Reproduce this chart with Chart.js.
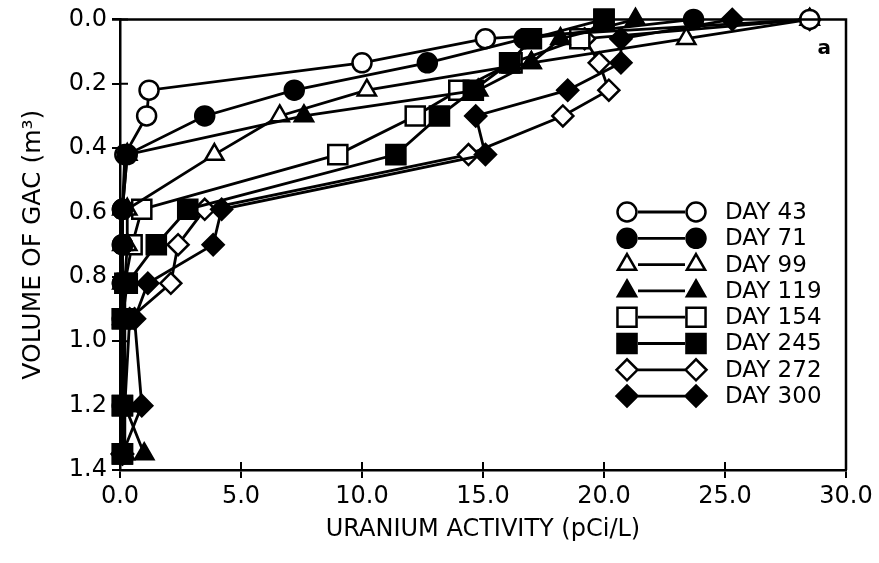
<!DOCTYPE html>
<html><head><meta charset="utf-8">
<script src="https://cdn.jsdelivr.net/npm/chart.js@4.4.1/dist/chart.umd.min.js"></script>
<style>html,body{margin:0;padding:0;background:#fff;}#wrap{width:879px;height:563px;}</style>
</head><body><div id="wrap"><canvas id="c" width="879" height="563"></canvas></div>
<script>
// ---- data ----
const depths = [0, 0.06, 0.135, 0.22, 0.30, 0.42, 0.59, 0.70, 0.82, 0.93, 1.20, 1.35];
const day43  = [28.5, 15.1, 10.0, 1.2, 1.1, 0.2, 0.1, 0.1, 0.1, 0.1, 0.1, 0.1];
const day71  = [23.7, 16.7, 12.7, 7.2, 3.5, 0.3, 0.1, 0.1, 0.1, 0.1, 0.1, 0.1];
const day99  = [28.5, 23.4, 17.0, 10.2, 6.6, 3.9, 0.3, 0.3, 0.2, 0.2, 0.2, 0.2];
const day119 = [21.3, 18.2, 17.0, 14.8, 7.6, 0.3, 0.1, 0.1, 0.1, 0.1, 0.2, 1.0];
const day154 = [20.0, 19.0, 16.2, 14.0, 12.2, 9.0, 0.9, 0.5, 0.2, 0.1, 0.1, 0.1];
const day245 = [20.0, 17.0, 16.1, 14.6, 13.2, 11.4, 2.8, 1.5, 0.3, 0.1, 0.1, 0.1];
const day272 = [28.5, 19.2, 19.8, 20.2, 18.3, 14.4, 3.5, 2.4, 2.1, 0.4, 0.2, 0.1];
const day300 = [25.3, 20.7, 20.7, 18.5, 14.7, 15.1, 4.2, 3.85, 1.15, 0.6, 0.9, 0.1];
const seriesLabels = ['DAY 43','DAY 71','DAY 99','DAY 119','DAY 154','DAY 245','DAY 272','DAY 300'];
const seriesValues = [day43, day71, day99, day119, day154, day245, day272, day300];
const xTickValues = [0, 5, 10, 15, 20, 25, 30];
const yTickValues = [0, 0.2, 0.4, 0.6, 0.8, 1.0, 1.2, 1.4];

// ---- styles ----
const shapes = ['circle','circle','triangle','triangle','rect','rect','rectRot','rectRot'];
const filled = [false,true,false,true,false,true,false,true];
const radii = {circle: 9.5, triangle: 10.5, rect: 13.5, rectRot: 10.5};
const FONT = "'DejaVu Sans', sans-serif";

const datasets = seriesValues.map((vals, i) => ({
  label: seriesLabels[i],
  data: vals.map((v, k) => ({x: v, y: depths[k]})),
  showLine: true,
  borderColor: '#000',
  borderWidth: 2.8,
  tension: 0,
  pointStyle: shapes[i],
  pointRadius: radii[shapes[i]],
  pointHoverRadius: radii[shapes[i]],
  pointBackgroundColor: filled[i] ? '#000' : '#fff',
  pointBorderColor: '#000',
  pointBorderWidth: 2.5,
  clip: false,
  order: filled[i] ? 0 : 1
}));

function drawMarker(ctx, shape, x, y, r, fill) {
  ctx.beginPath();
  if (shape === 'circle') {
    ctx.arc(x, y, r, 0, Math.PI * 2);
  } else if (shape === 'triangle') {
    let rad = 0;
    ctx.moveTo(x + Math.sin(rad) * r, y - Math.cos(rad) * r);
    rad += 2 * Math.PI / 3;
    ctx.lineTo(x + Math.sin(rad) * r, y - Math.cos(rad) * r);
    rad += 2 * Math.PI / 3;
    ctx.lineTo(x + Math.sin(rad) * r, y - Math.cos(rad) * r);
    ctx.closePath();
  } else if (shape === 'rect') {
    const s = Math.SQRT1_2 * r;
    ctx.rect(x - s, y - s, 2 * s, 2 * s);
  } else {
    ctx.moveTo(x - r, y); ctx.lineTo(x, y - r); ctx.lineTo(x + r, y); ctx.lineTo(x, y + r); ctx.closePath();
  }
  ctx.fillStyle = fill ? '#000' : '#fff';
  ctx.fill();
  ctx.lineWidth = 2.5;
  ctx.strokeStyle = '#000';
  ctx.stroke();
}

const framePlugin = {
  id: 'frame',
  afterDraw(chart) {
    const ctx = chart.ctx;
    const {left, right, top, bottom} = chart.chartArea;
    const xs = chart.scales.x, ys = chart.scales.y;
    ctx.save();
    ctx.strokeStyle = '#000';
    ctx.lineWidth = 2.5;
    ctx.beginPath();
    ctx.moveTo(left - 8, top); ctx.lineTo(right, top); ctx.lineTo(right, bottom);
    ctx.stroke();
    ctx.lineWidth = 2;
    ctx.beginPath();
    xTickValues.forEach(v => { const px = xs.getPixelForValue(v); ctx.moveTo(px, bottom); ctx.lineTo(px, bottom - 8); });
    yTickValues.forEach(v => { const py = ys.getPixelForValue(v); ctx.moveTo(left, py); ctx.lineTo(left + 8, py); });
    ctx.stroke();
    // legend
    const rowY0 = 212, rowH = 26.3;
    seriesLabels.forEach((lab, i) => {
      const y = rowY0 + i * rowH;
      const r = radii[shapes[i]];
      ctx.lineWidth = 2.8;
      ctx.beginPath(); ctx.moveTo(638, y); ctx.lineTo(685, y); ctx.stroke();
      drawMarker(ctx, shapes[i], 627, y, r, filled[i]);
      drawMarker(ctx, shapes[i], 696, y, r, filled[i]);
      ctx.fillStyle = '#000';
      ctx.font = "23px " + FONT;
      ctx.textBaseline = 'middle';
      ctx.textAlign = 'left';
      ctx.fillText(lab, 725, y + 1);
    });
    // panel letter
    ctx.font = "bold 20px " + FONT;
    ctx.textAlign = 'center';
    ctx.textBaseline = 'middle';
    ctx.fillText('a', xs.getPixelForValue(29.1), ys.getPixelForValue(0.09));
    ctx.restore();
  }
};

new Chart(document.getElementById('c'), {
  type: 'scatter',
  data: {datasets},
  options: {
    responsive: false,
    animation: false,
    devicePixelRatio: 1,
    layout: {padding: {top: 19, right: 33, left: 0, bottom: 0}},
    plugins: {legend: {display: false}, tooltip: {enabled: false}},
    scales: {
      x: {
        type: 'linear', min: 0, max: 30,
        afterFit: s => { s.height = 93; },
        afterBuildTicks: s => { s.ticks = xTickValues.map(v => ({value: v})); },
        ticks: {color: '#000', font: {family: FONT, size: 24}, padding: 4, maxRotation: 0, callback: v => Number(v).toFixed(1)},
        grid: {drawOnChartArea: false, color: '#000', lineWidth: 2, tickLength: 8, tickColor: '#000'},
        border: {color: '#000', width: 2.5},
        title: {display: true, text: 'URANIUM ACTIVITY (pCi/L)', color: '#000', font: {family: FONT, size: 24}, padding: {top: 0, bottom: 19}}
      },
      y: {
        type: 'linear', min: 0, max: 1.4, reverse: true,
        afterFit: s => { s.width = 120; },
        afterBuildTicks: s => { s.ticks = yTickValues.map(v => ({value: v})); },
        ticks: {color: '#000', font: {family: FONT, size: 24}, padding: 5, callback: v => Number(v).toFixed(1)},
        grid: {drawOnChartArea: false, color: '#000', lineWidth: 2, tickLength: 8, tickColor: '#000'},
        border: {color: '#000', width: 2.5},
        title: {display: true, text: 'VOLUME OF GAC (m³)', color: '#000', font: {family: FONT, size: 25}, padding: {top: 18, bottom: 0}}
      }
    }
  },
  plugins: [framePlugin]
});
</script></body></html>
